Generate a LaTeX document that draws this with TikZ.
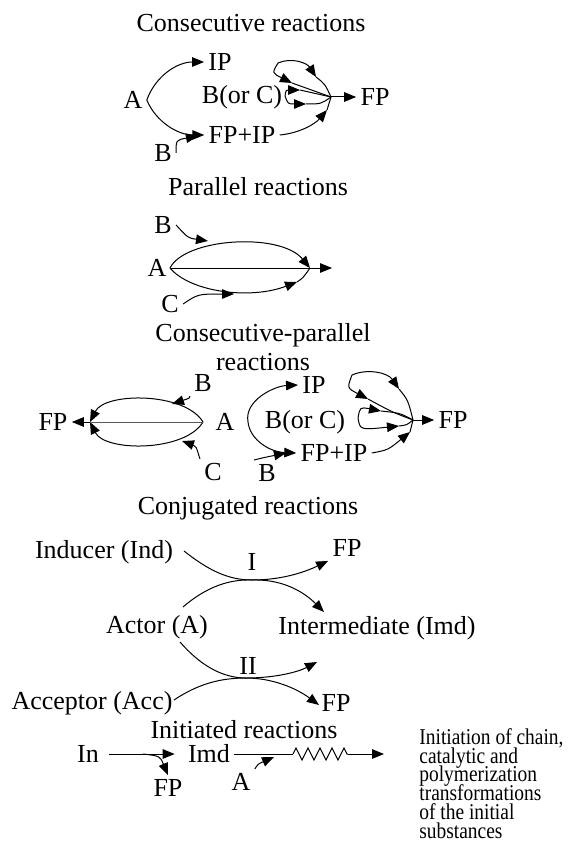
\documentclass[tikz,border=0pt]{standalone}
\usepackage{fontspec}
\setmainfont{Liberation Serif}
\newfontfamily\narrowfont[FakeStretch=0.86]{Liberation Serif}
\usetikzlibrary{positioning, arrows.meta, decorations.pathmorphing}
\newcommand{\notefont}{\narrowfont\fontsize{11.3}{9.4}\selectfont\lineskiplimit-20pt\relax}

\begin{document}
\begin{tikzpicture}[
    x=0.5pt, y=-0.5pt,
    font=\fontsize{13}{15}\selectfont,
    >={Triangle[length=6pt,width=4.8pt]},
    every node/.style={inner sep=2pt},
    lbl/.style={inner sep=2pt},
    ttl/.style={inner sep=0pt, align=center},
    link/.style={line width=0.5pt},
    arrow/.style={link, ->},
    midline/.style={link, draw=black!65},
    chain/.style={link, decorate, decoration={zigzag, segment length=6pt, amplitude=3pt}},
    note/.style={anchor=north west, align=left, inner sep=0pt, font=\notefont},
]
\useasboundingbox (0,0) rectangle (570,861);

% ------------------------------------------------ consecutive reactions ---
\node[ttl] (t1) at (251,23) {Consecutive reactions};
\node[lbl] (a1) at (133,100) {A};
\node[lbl] (ip1) at (220,62) {IP};
\node[lbl] (boc1) at (242,97) {B(or C)};
\node[lbl] (fpip1) at (242,135) {FP+IP};
\node[lbl] (b1) at (163,153) {B};
\node[lbl] (fp1) at (375,97) {FP};
\coordinate (j1) at (331,97);
\coordinate (s1) at (278,63);
\coordinate (u1) at (316,77);
\coordinate (v1) at (292,83);
\coordinate (s2) at (285,96);
\coordinate (w1) at (300,90);
\coordinate (w2) at (306,104);
\coordinate (k1) at (327,110);
\coordinate (bt1) at (198,136);

\draw[arrow] (a1.east) .. controls (156,75) and (178,62) .. (ip1.west);
\draw[arrow] (a1.east) .. controls (156,122) and (178,135) .. (fpip1.west);
\draw[arrow] (b1.east) .. controls (176,140) .. (bt1);
\draw[arrow] (fpip1.east) .. controls (300,133) and (315,124) .. (k1);
\draw[link] (k1) -- (j1);
\draw[arrow] (s1) .. controls (292,57) and (307,63) .. (u1);
\draw[link] (u1) .. controls (325,84) .. (j1);
\draw[arrow] (s1) .. controls (272,73) .. (v1);
\draw[link] (v1) .. controls (312,90) .. (j1);
\draw[arrow] (s2) .. controls (286,90) .. (w1);
\draw[link] (w1) .. controls (316,93) .. (j1);
\draw[arrow] (s2) .. controls (288,104) .. (w2);
\draw[link] (w2) .. controls (321,104) .. (j1);
\draw[arrow] (j1) -- (fp1.west);

% --------------------------------------------------- parallel reactions ---
\node[ttl] (t2) at (258,187) {Parallel reactions};
\node[lbl] (b2) at (163,225) {B};
\node[lbl] (a2) at (157,268) {A};
\node[lbl] (c2) at (170,304) {C};
\coordinate (l2) at (170,268);
\coordinate (r2) at (310,268);
\coordinate (q2) at (297,282);
\coordinate (p2) at (332,268);
\coordinate (bt2) at (208,241);
\coordinate (ct2) at (234,294);

\draw[arrow] (l2) .. controls (185,238) and (280,232) .. (r2);
\draw[link] (l2) -- (r2);
\draw[arrow] (r2) -- (p2);
\draw[arrow] (l2) .. controls (190,292) and (250,300) .. (q2);
\draw[link] (q2) .. controls (303,278) .. (r2);
\draw[arrow] (b2.east) .. controls (188,238) .. (bt2);
\draw[arrow] (c2.east) .. controls (198,294) .. (ct2);

% ---------------------------------------- consecutive-parallel reactions ---
\node[ttl, font=\fontsize{13}{14.5}\selectfont] (t3) at (263,347) {Consecutive-parallel\\reactions};
\node[lbl] (fp3) at (53,422) {FP};
\node[lbl] (a3) at (225,422) {A};
\node[lbl] (b3) at (203,383) {B};
\node[lbl] (c3) at (213,472) {C};
\node[lbl] (ip3) at (314,385) {IP};
\node[lbl] (boc3) at (305,422) {B(or C)};
\node[lbl] (fpip3) at (334,453) {FP+IP};
\node[lbl] (bb3) at (267,473) {B};
\node[lbl] (fpr3) at (453,420) {FP};
\coordinate (l3) at (90,422);
\coordinate (r3) at (203,422);
\coordinate (bt3) at (172,404);
\coordinate (ct3) at (182,441);
\coordinate (a3s) at (248,422);
\coordinate (bbt3) at (286,453);
\coordinate (j3) at (413,420);
\coordinate (s3) at (352,375);
\coordinate (u3) at (399,389);
\coordinate (v3) at (368,399);
\coordinate (s4) at (358,418);
\coordinate (w3) at (381,411);
\coordinate (w4) at (399,426);
\coordinate (k3) at (410,432);

\draw[arrow] (r3) .. controls (185,392) and (105,392) .. (l3);
\draw[arrow] (r3) .. controls (185,452) and (105,452) .. (l3);
\draw[midline] (l3) -- (r3);
\draw[arrow] (l3) -- (fp3.east);
\draw[arrow] (b3.south west) .. controls (190,398) .. (bt3);
\draw[arrow] (c3.north west) .. controls (196,446) .. (ct3);
\draw[arrow] (a3s) .. controls (244,400) and (275,386) .. (ip3.west);
\draw[arrow] (a3s) .. controls (250,440) and (270,452) .. (fpip3.west);
\draw[arrow] (bb3.north west) .. controls (262,458) .. (bbt3);
\draw[arrow] (s3) .. controls (368,368) and (388,373) .. (u3);
\draw[link] (u3) .. controls (408,400) .. (j3);
\draw[arrow] (s3) .. controls (347,388) .. (v3);
\draw[link] (v3) .. controls (392,412) .. (j3);
\draw[arrow] (s4) .. controls (360,407) .. (w3);
\draw[link] (w3) .. controls (400,413) .. (j3);
\draw[arrow] (s4) .. controls (360,430) .. (w4);
\draw[link] (w4) .. controls (407,425) .. (j3);
\draw[arrow] (fpip3.east) .. controls (388,450) .. (k3);
\draw[link] (k3) -- (j3);
\draw[arrow] (j3) -- (fpr3.west);

% -------------------------------------------------- conjugated reactions ---
\node[ttl] (t4) at (248,508) {Conjugated reactions};
\node[lbl] (ind) at (104,552) {Inducer (Ind)};
\node[lbl] (one) at (252,562) {I};
\node[lbl] (fp4a) at (347,548) {FP};
\node[lbl] (actor) at (157,627) {Actor (A)};
\node[lbl] (imd) at (377,628) {Intermediate (Imd)};
\node[lbl] (two) at (248,666) {II};
\node[lbl] (acc) at (92,703) {Acceptor (Acc)};
\node[lbl] (fp4b) at (336,703) {FP};
\coordinate (kiss1) at (252,580);
\coordinate (kiss2) at (246,678);
\coordinate (ind1) at (184,551);
\coordinate (act1) at (183,607);
\coordinate (act2) at (180,642);
\coordinate (acc1) at (174,700);
\coordinate (imdin1) at (324,612);
\coordinate (imdin2) at (317,662);
\coordinate (fpin2) at (319,705);

\draw[arrow] (ind1) .. controls (208,570) and (228,580) .. (kiss1)
  .. controls (282,580) and (305,572) .. (fp4a.south west);
\draw[arrow] (act1) .. controls (205,588) and (228,579) .. (kiss1)
  .. controls (280,579) and (302,590) .. (imdin1);
\draw[arrow] (act2) .. controls (200,665) and (222,678) .. (kiss2)
  .. controls (275,678) and (298,672) .. (imdin2);
\draw[arrow] (acc1) .. controls (198,684) and (220,678) .. (kiss2)
  .. controls (272,678) and (296,688) .. (fpin2);

% --------------------------------------------------- initiated reactions ---
\node[ttl] (t5) at (244,730) {Initiated reactions};
\node[lbl] (in5) at (88,754) {In};
\node[lbl] (imd5) at (209,754) {Imd};
\node[lbl] (fp5) at (168,788) {FP};
\node[lbl] (a5) at (241,782) {A};
\node[note] (note5) at (419,728) {Initiation of chain,\\catalytic and\\polymerization\\transformations\\of the initial\\substances};
\coordinate (br5) at (143,754);
\coordinate (z1) at (293,754);
\coordinate (z2) at (348,754);
\coordinate (end5) at (384,754);
\coordinate (ai5) at (274,757);

\draw[arrow, shorten <=3pt, shorten >=4.5pt] (in5.east) -- (imd5.west);
\draw[arrow] (br5) .. controls (160,756) .. (fp5.north);
\draw[link] (imd5.east) -- (z1);
\draw[chain] (z1) -- (z2);
\draw[arrow] (z2) -- (end5);
\draw[arrow] (a5.north east) .. controls (258,764) .. (ai5);

\end{tikzpicture}
\end{document}
